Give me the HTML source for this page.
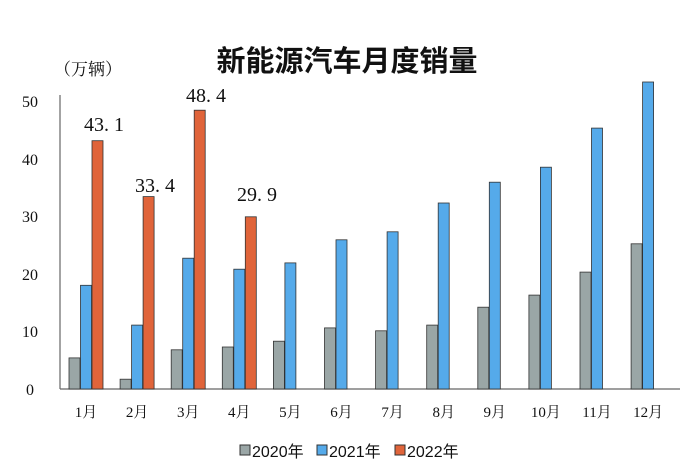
<!DOCTYPE html>
<html><head><meta charset="utf-8"><style>
body{margin:0;background:#fff;}
svg{display:block;}
.s{font-family:"Liberation Serif","Noto Serif CJK SC",serif;}
.a{font-family:"Liberation Sans","Noto Sans CJK SC",sans-serif;}
</style></head><body>
<svg width="700" height="472" viewBox="0 0 700 472" xmlns="http://www.w3.org/2000/svg">
<rect width="700" height="472" fill="#fff"/>
<text x="347" y="71" text-anchor="middle" class="a" font-size="29" font-weight="bold" fill="#111">新能源汽车月度销量</text>
<text x="54" y="75" class="s" font-size="17" fill="#111">（万辆）</text>
<line x1="60" y1="95" x2="60" y2="389" stroke="#666" stroke-width="1.2"/>
<line x1="60" y1="389" x2="680" y2="389" stroke="#666" stroke-width="1.2"/>
<g class="s" font-size="16" fill="#111" text-anchor="middle">
<text x="30" y="395">0</text><text x="30" y="337">10</text><text x="30" y="280">20</text><text x="30" y="222">30</text><text x="30" y="165">40</text><text x="30" y="107">50</text>
</g>
<g stroke="#333" stroke-width="0.8">
<g fill="#9aa6a6">
<rect x="69" y="357.9" width="11" height="31.1"/>
<rect x="120.1" y="379.2" width="11" height="9.8"/>
<rect x="171.2" y="349.8" width="11" height="39.2"/>
<rect x="222.3" y="347" width="11" height="42"/>
<rect x="273.4" y="341.2" width="11" height="47.8"/>
<rect x="324.5" y="327.9" width="11" height="61.1"/>
<rect x="375.6" y="330.8" width="11" height="58.2"/>
<rect x="426.7" y="325.1" width="11" height="63.9"/>
<rect x="477.8" y="307.2" width="11" height="81.8"/>
<rect x="528.9" y="295.1" width="11" height="93.9"/>
<rect x="580" y="272.1" width="11" height="116.9"/>
<rect x="631.1" y="243.8" width="11" height="145.2"/>
</g>
<g fill="#55aaea">
<rect x="80.5" y="285.3" width="11" height="103.7"/>
<rect x="131.6" y="325.1" width="11" height="63.9"/>
<rect x="182.7" y="258.2" width="11" height="130.8"/>
<rect x="233.8" y="269.2" width="11" height="119.8"/>
<rect x="284.9" y="262.9" width="11" height="126.1"/>
<rect x="336" y="239.8" width="11" height="149.2"/>
<rect x="387.1" y="231.8" width="11" height="157.2"/>
<rect x="438.2" y="203" width="11" height="186"/>
<rect x="489.3" y="182.2" width="11" height="206.8"/>
<rect x="540.4" y="167.2" width="11" height="221.8"/>
<rect x="591.5" y="128.1" width="11" height="260.9"/>
<rect x="642.6" y="82" width="11" height="307"/>
</g>
<g fill="#e0643a">
<rect x="92" y="140.7" width="11" height="248.3"/>
<rect x="143.1" y="196.6" width="11" height="192.4"/>
<rect x="194.2" y="110.2" width="11" height="278.8"/>
<rect x="245.3" y="216.8" width="11" height="172.2"/>
</g>
</g>
<g class="s" font-size="15" fill="#111" text-anchor="middle">
<text x="86" y="417">1月</text><text x="137.1" y="417">2月</text><text x="188.2" y="417">3月</text><text x="239.3" y="417">4月</text>
<text x="290.4" y="417">5月</text><text x="341.5" y="417">6月</text><text x="392.6" y="417">7月</text><text x="443.7" y="417">8月</text>
<text x="494.8" y="417">9月</text><text x="545.9" y="417">10月</text><text x="597" y="417">11月</text><text x="648.1" y="417">12月</text>
</g>
<g class="s" font-size="20" fill="#111" text-anchor="middle">
<text x="104" y="131">43. 1</text>
<text x="155" y="192">33. 4</text>
<text x="206" y="102">48. 4</text>
<text x="257" y="201">29. 9</text>
</g>
<g class="a" font-size="16" fill="#111">
<rect x="240" y="445" width="10" height="10" fill="#9aa6a6" stroke="#333"/><text x="252" y="457">2020年</text>
<rect x="317" y="445" width="10" height="10" fill="#55aaea" stroke="#333"/><text x="329" y="457">2021年</text>
<rect x="395" y="445" width="10" height="10" fill="#e0643a" stroke="#333"/><text x="407" y="457">2022年</text>
</g>
</svg>
</body></html>
